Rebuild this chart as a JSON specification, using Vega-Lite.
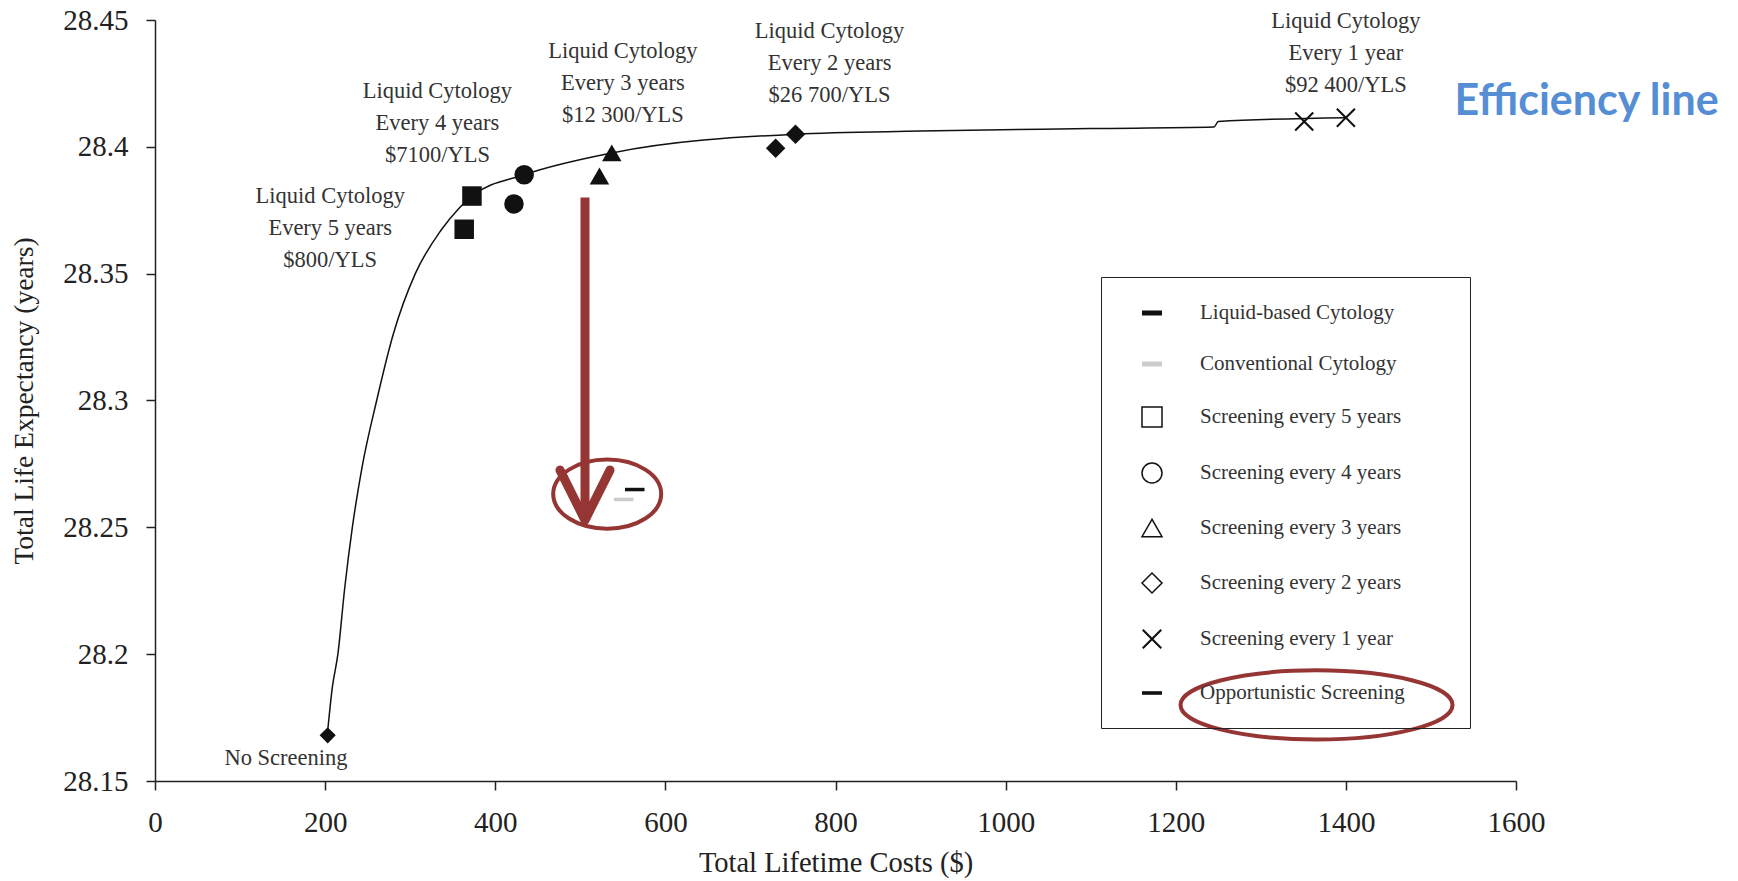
{
  "$schema": "https://vega.github.io/schema/vega-lite/v6.json",
  "width": 1361,
  "height": 761,
  "autosize": "none",
  "padding": {"left": 155, "top": 20, "right": 222, "bottom": 100},
  "background": "white",
  "config": {
    "view": {"stroke": null},
    "font": "Liberation Serif",
    "axis": {
      "domainColor": "#222", "domainWidth": 1.5, "tickColor": "#222", "tickWidth": 1.5, "tickSize": 9,
      "labelFont": "Liberation Serif", "labelFontSize": 29, "labelColor": "#222", "labelFlush": false,
      "titleFont": "Liberation Serif", "titleFontSize": 28.5, "titleFontWeight": "normal", "titleColor": "#222",
      "grid": false
    },
    "legend": {
      "orient": "none", "legendX": 946, "legendY": 257,
      "titleOrient": "right", "titlePadding": 40,
      "strokeColor": "#222", "padding": 25, "symbolSize": 400, "rowPadding": 30,
      "symbolOffset": 15, "labelOffset": 37,
      "labelFont": "Liberation Serif", "labelFontSize": 21, "labelColor": "#333", "labelLimit": 400,
      "symbolStrokeWidth": 1.5, "symbolOpacity": 1
    }
  },
  "datasets": {
    "points": [
      {"cytology": "Liquid", "freq": "Screening every 5 years", "cost": 372.6, "le": 28.3806},
      {"cytology": "Liquid", "freq": "Screening every 4 years", "cost": 434, "le": 28.389},
      {"cytology": "Liquid", "freq": "Screening every 3 years", "cost": 537, "le": 28.3976},
      {"cytology": "Liquid", "freq": "Screening every 2 years", "cost": 753, "le": 28.405},
      {"cytology": "Liquid", "freq": "Screening every 1 year", "cost": 1400, "le": 28.4115},
      {"cytology": "Liquid", "freq": "Opportunistic Screening", "cost": 564, "le": 28.2649},
      {"cytology": "Conventional", "freq": "Screening every 5 years", "cost": 363.5, "le": 28.3675},
      {"cytology": "Conventional", "freq": "Screening every 4 years", "cost": 422, "le": 28.3775},
      {"cytology": "Conventional", "freq": "Screening every 3 years", "cost": 522.5, "le": 28.3885},
      {"cytology": "Conventional", "freq": "Screening every 2 years", "cost": 729.6, "le": 28.3994},
      {"cytology": "Conventional", "freq": "Screening every 1 year", "cost": 1351, "le": 28.41},
      {"cytology": "Conventional", "freq": "Opportunistic Screening", "cost": 551, "le": 28.261}
    ],
    "noscreen": [{"cost": 203, "le": 28.168}],
    "line": [
      {"cost": 203, "le": 28.1697}, {"cost": 208.5, "le": 28.187}, {"cost": 215, "le": 28.2},
      {"cost": 223, "le": 28.226}, {"cost": 232, "le": 28.25}, {"cost": 243.6, "le": 28.274},
      {"cost": 260.6, "le": 28.3}, {"cost": 280, "le": 28.326}, {"cost": 306, "le": 28.35},
      {"cost": 336, "le": 28.367}, {"cost": 358, "le": 28.376}, {"cost": 372.6, "le": 28.3806},
      {"cost": 434, "le": 28.389}, {"cost": 537, "le": 28.3976}, {"cost": 753, "le": 28.405},
      {"cost": 900, "le": 28.4062}, {"cost": 1100, "le": 28.4072}, {"cost": 1245, "le": 28.4078},
      {"cost": 1250, "le": 28.41}, {"cost": 1400, "le": 28.4115}
    ],
    "labels": [
      {"label": "Liquid Cytology\nEvery 5 years\n$800/YLS", "cost": 206, "le": 28.3806},
      {"label": "Liquid Cytology\nEvery 4 years\n$7100/YLS", "cost": 332, "le": 28.4221},
      {"label": "Liquid Cytology\nEvery 3 years\n$12 300/YLS", "cost": 550, "le": 28.4378},
      {"label": "Liquid Cytology\nEvery 2 years\n$26 700/YLS", "cost": 793, "le": 28.4456},
      {"label": "Liquid Cytology\nEvery 1 year\n$92 400/YLS", "cost": 1400, "le": 28.4497},
      {"label": "No Screening", "cost": 154, "le": 28.1592}
    ],
    "note": [{"label": "Efficiency line", "cost": 1683, "le": 28.4177}],
    "arrow": [{"cost": 505.5, "le": 28.38, "le2": 28.2545}],
    "arrowhead": [{"cost": 505.5, "le": 28.2627}],
    "ring1": [{"cost": 531.6, "le": 28.2631}],
    "ring2": [{"cost": 1365.5, "le": 28.18}]
  },
  "encoding": {
    "x": {"field": "cost", "type": "quantitative", "scale": {"domain": [0, 1600], "nice": false},
      "axis": {"title": "Total Lifetime Costs ($)", "values": [0, 200, 400, 600, 800, 1000, 1200, 1400, 1600], "format": "d", "labelPadding": 18, "titlePadding": 11}},
    "y": {"field": "le", "type": "quantitative", "scale": {"domain": [28.15, 28.45], "nice": false, "zero": false},
      "axis": {"title": "Total Life Expectancy (years)", "titleFontSize": 27.5, "values": [28.15, 28.2, 28.25, 28.3, 28.35, 28.4, 28.45], "format": ".4~r", "labelPadding": 18, "titlePadding": 24}}
  },
  "layer": [
    {"data": {"name": "line"}, "mark": {"type": "line", "color": "#111", "strokeWidth": 1.5, "interpolate": "monotone"}},
    {"data": {"name": "points"},
      "mark": {"type": "point", "filled": true, "size": 0, "opacity": 0, "strokeWidth": 1.5},
      "encoding": {
        "shape": {"field": "freq", "type": "nominal",
          "scale": {
            "domain": ["Liquid-based Cytology", "Conventional Cytology", "Screening every 5 years", "Screening every 4 years", "Screening every 3 years", "Screening every 2 years", "Screening every 1 year", "Opportunistic Screening"],
            "range": ["M-1,-0.25H1V0.25H-1Z", "M-1,-0.25H1V0.25H-1Z", "square", "circle", "triangle-up", "diamond", "M-1,-0.85L-0.85,-1L0,-0.15L0.85,-1L1,-0.85L0.15,0L1,0.85L0.85,1L0,0.15L-0.85,1L-1,0.85L-0.15,0Z", "M-1,-0.18H1V0.18H-1Z"]
          },
          "legend": {"title": "\u00a0"}
        },
        "fill": {"field": "freq", "type": "nominal",
          "scale": {
            "domain": ["Liquid-based Cytology", "Conventional Cytology", "Screening every 5 years", "Screening every 4 years", "Screening every 3 years", "Screening every 2 years", "Screening every 1 year", "Opportunistic Screening"],
            "range": ["#111111", "#cccccc", "#ffffff", "#ffffff", "#ffffff", "#ffffff", "#111111", "#111111"]
          },
          "legend": {"title": "\u00a0"}
        },
        "stroke": {"field": "freq", "type": "nominal",
          "scale": {
            "domain": ["Liquid-based Cytology", "Conventional Cytology", "Screening every 5 years", "Screening every 4 years", "Screening every 3 years", "Screening every 2 years", "Screening every 1 year", "Opportunistic Screening"],
            "range": ["transparent", "transparent", "#111111", "#111111", "#111111", "#111111", "transparent", "transparent"]
          },
          "legend": {"title": "\u00a0"}
        }
      }
    },
    {"data": {"name": "points"},
      "mark": {"type": "point", "filled": true, "size": 380, "opacity": 1},
      "encoding": {
        "shape": {"field": "freq", "type": "nominal", "legend": null},
        "fill": {"condition": {"test": "datum.cytology === 'Conventional' && datum.freq === 'Opportunistic Screening'", "value": "#cccccc"}, "value": "#111111"}
      }
    },
    {"data": {"name": "noscreen"}, "mark": {"type": "point", "shape": "diamond", "filled": true, "size": 260, "color": "#111", "opacity": 1}},
    {"data": {"name": "labels"}, "mark": {"type": "text", "font": "Liberation Serif", "fontSize": 22.5, "lineHeight": 32, "lineBreak": "\n", "align": "center", "baseline": "middle", "color": "#333"},
      "encoding": {"text": {"field": "label"}}},
    {"data": {"name": "note"}, "mark": {"type": "text", "font": "Lato", "fontWeight": "bold", "fontSize": 43, "align": "center", "baseline": "middle", "color": "#558ed5"},
      "encoding": {"text": {"field": "label"}}},
    {"data": {"name": "arrow"}, "mark": {"type": "rule", "color": "#963634", "strokeWidth": 9},
      "encoding": {"y2": {"field": "le2"}}},
    {"data": {"name": "arrowhead"}, "mark": {"type": "point", "shape": "M-1,-1L0,1L1,-1", "filled": false, "stroke": "#963634", "strokeWidth": 9, "strokeCap": "round", "strokeJoin": "round", "size": 2500, "opacity": 1}},
    {"data": {"name": "ring1"}, "mark": {"type": "point", "shape": "M-1,0A1,0.64 0 1,0 1,0A1,0.64 0 1,0 -1,0", "filled": false, "stroke": "#963634", "strokeWidth": 4, "size": 11664, "opacity": 1}},
    {"data": {"name": "ring2"}, "mark": {"type": "point", "shape": "M-1,0A1,0.254 0 1,0 1,0A1,0.254 0 1,0 -1,0", "filled": false, "stroke": "#963634", "strokeWidth": 4, "size": 73984, "opacity": 1}}
  ]
}
